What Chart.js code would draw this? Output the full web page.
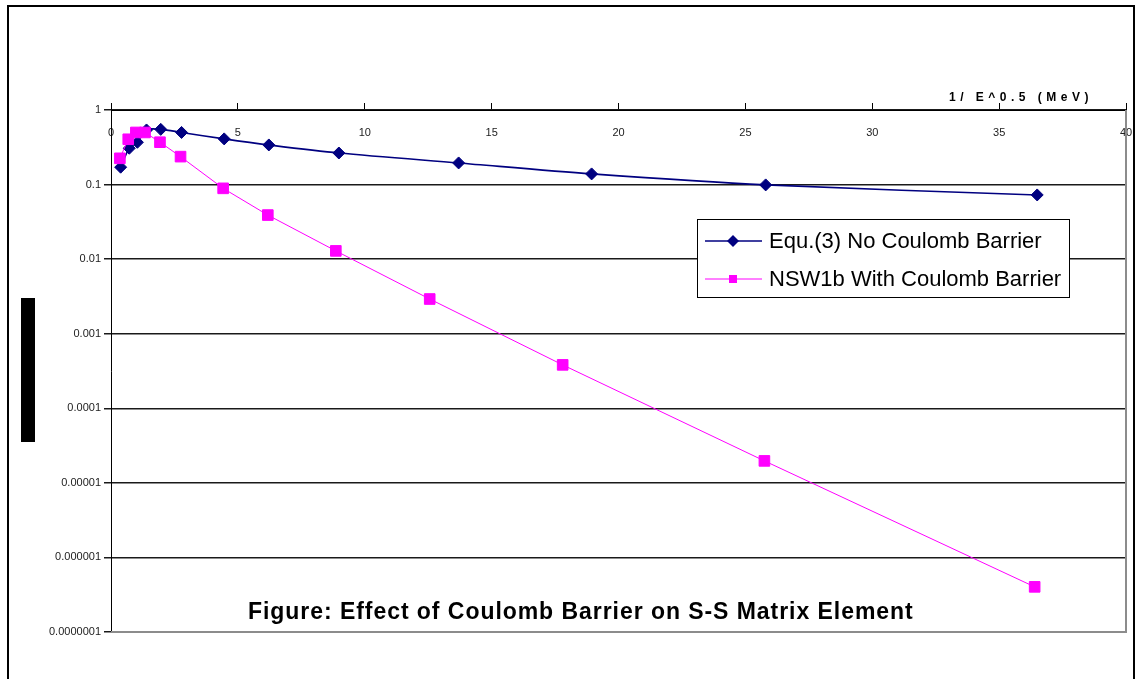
<!DOCTYPE html>
<html>
<head>
<meta charset="utf-8">
<script src="https://cdn.jsdelivr.net/npm/chart.js@4.4.1/dist/chart.umd.min.js"></script>
<style>
  html, body { margin: 0; padding: 0; background: #fff; }
  canvas { display: block; }
</style>
</head>
<body>
<canvas id="chart" width="1137" height="679"></canvas>
<script>
// 1/sqrt(E) positions and matrix element values for both calculations
const noBarrierX = [0.38, 0.72, 1.04, 1.40, 1.96, 2.78, 4.46, 6.22, 8.98, 13.7, 18.94, 25.8, 36.5];
const noBarrierY = [0.171, 0.307, 0.369, 0.54, 0.55, 0.50, 0.41, 0.34, 0.265, 0.195, 0.139, 0.099, 0.0726];

const barrierX = [0.35, 0.68, 0.98, 1.34, 1.93, 2.74, 4.42, 6.18, 8.86, 12.56, 17.8, 25.75, 36.4];
const barrierY = [0.225, 0.405, 0.50, 0.50, 0.37, 0.237, 0.089, 0.039, 0.0129, 0.00292, 0.000382, 0.0000197, 0.000000403];

const seriesNames = ["Equ.(3) No Coulomb Barrier", "NSW1b With Coulomb Barrier"];

const yTicks = [0.0000001, 0.000001, 0.00001, 0.0001, 0.001, 0.01, 0.1, 1];
const yTickLabels = ["0.0000001", "0.000001", "0.00001", "0.0001", "0.001", "0.01", "0.1", "1"];

const chartTitle = "Figure: Effect of Coulomb Barrier on S-S Matrix Element";
const xAxisTitle = "1/ E^0.5 (MeV)";

const FONT = "'Liberation Sans', Arial, sans-serif";

const toPoints = (xs, ys) => xs.map((x, i) => ({ x, y: ys[i] }));

const drawMarker = (ctx, style, x, y, r, color) => {
  ctx.fillStyle = color;
  ctx.beginPath();
  if (style === "rectRot") {
    ctx.moveTo(x - r, y);
    ctx.lineTo(x, y - r);
    ctx.lineTo(x + r, y);
    ctx.lineTo(x, y + r);
    ctx.closePath();
  } else {
    ctx.rect(x - r, y - r, 2 * r, 2 * r);
  }
  ctx.fill();
};

const decor = {
  id: "decor",
  beforeDraw(chart) {
    const { ctx } = chart;
    ctx.save();
    ctx.fillStyle = "#fff";
    ctx.fillRect(0, 0, chart.width, chart.height);

    // outer frame, open at the bottom
    ctx.strokeStyle = "#000";
    ctx.lineWidth = 2;
    ctx.beginPath();
    ctx.moveTo(8, chart.height + 2);
    ctx.lineTo(8, 6);
    ctx.lineTo(1134, 6);
    ctx.lineTo(1134, chart.height + 2);
    ctx.stroke();

    // solid bar left of the value axis
    ctx.fillStyle = "#000";
    ctx.fillRect(21, 298, 14, 144);
    ctx.restore();
  },
  beforeDatasetsDraw(chart) {
    const { ctx, chartArea: a } = chart;
    ctx.save();
    ctx.strokeStyle = "#8c8c8c";
    ctx.lineWidth = 2;
    ctx.beginPath();
    ctx.moveTo(a.right, a.top);
    ctx.lineTo(a.right, a.bottom);
    ctx.lineTo(a.left, a.bottom);
    ctx.stroke();
    ctx.restore();
  },
  afterDraw(chart) {
    const { ctx } = chart;
    ctx.save();

    // legend box
    ctx.fillStyle = "#fff";
    ctx.fillRect(697, 219, 373, 79);
    ctx.strokeStyle = "#000";
    ctx.lineWidth = 1;
    ctx.strokeRect(697.5, 219.5, 372, 78);

    chart.data.datasets.forEach((ds, i) => {
      const y = 241 + i * 38;
      ctx.strokeStyle = ds.borderColor;
      ctx.lineWidth = ds.borderWidth;
      ctx.beginPath();
      ctx.moveTo(705, y);
      ctx.lineTo(762, y);
      ctx.stroke();
      drawMarker(ctx, ds.pointStyle, 733, y, ds.pointStyle === "rectRot" ? 6 : 4, ds.pointBackgroundColor);
      ctx.fillStyle = "#000";
      ctx.font = `22px ${FONT}`;
      ctx.textBaseline = "middle";
      ctx.textAlign = "left";
      ctx.fillText(ds.label, 769, y + 1);
    });

    // axis caption above the top axis
    ctx.font = `bold 12px ${FONT}`;
    ctx.letterSpacing = "4.5px";
    ctx.fillStyle = "#000";
    ctx.textBaseline = "middle";
    ctx.fillText(xAxisTitle, 949, 98);

    // figure caption
    ctx.font = `bold 23px ${FONT}`;
    ctx.letterSpacing = "0.95px";
    ctx.fillText(chartTitle, 248, 613);
    ctx.restore();
  },
};

const chartData = {
  datasets: [
    {
      label: seriesNames[0],
      data: toPoints(noBarrierX, noBarrierY),
      borderColor: "#000080",
      backgroundColor: "#000080",
      pointBackgroundColor: "#000080",
      pointBorderColor: "#000080",
      borderWidth: 1.6,
      pointStyle: "rectRot",
      pointRadius: 6,
      pointBorderWidth: 1,
      tension: 0.3,
      order: 1,
    },
    {
      label: seriesNames[1],
      data: toPoints(barrierX, barrierY),
      borderColor: "#ff00ff",
      backgroundColor: "#ff00ff",
      pointBackgroundColor: "#ff00ff",
      pointBorderColor: "#ff00ff",
      borderWidth: 1,
      pointStyle: "rect",
      pointRadius: 7.5,
      pointBorderWidth: 1,
      tension: 0,
      order: 0,
    },
  ],
};

const chartConfig = {
  type: "scatter",
  data: chartData,
  options: {
    responsive: false,
    animation: false,
    showLine: true,
    layout: { padding: { left: 0, top: 0, right: 11, bottom: 47 } },
    plugins: {
      legend: { display: false },
      tooltip: { enabled: false },
    },
    scales: {
      x: {
        type: "linear",
        position: "top",
        min: 0,
        max: 40,
        ticks: {
          stepSize: 5,
          // mirrored: labels sit inside the plot, just under the axis line
          mirror: true,
          padding: 16,
          color: "#222",
          font: { family: FONT, size: 11 },
        },
        grid: { drawOnChartArea: false, tickLength: 7, color: "#000" },
        border: { color: "#000", width: 1 },
        afterFit(scale) {
          scale.height = 110;
          // end labels may overhang; keep the plot width fixed
          scale.paddingLeft = 0;
          scale.paddingRight = 0;
        },
      },
      y: {
        type: "logarithmic",
        min: 0.0000001,
        max: 1,
        afterBuildTicks(scale) {
          scale.ticks = yTicks.map((value) => ({ value }));
        },
        ticks: {
          padding: 3,
          color: "#222",
          font: { family: FONT, size: 11 },
          callback: (value, index) => yTickLabels[index],
        },
        grid: { color: "#1a1a1a", lineWidth: 1.5, tickLength: 7 },
        border: { color: "#000", width: 1 },
        afterFit(scale) {
          scale.width = 111;
        },
      },
    },
  },
  plugins: [decor],
};

window.addEventListener("DOMContentLoaded", () => {
  new Chart(document.getElementById("chart"), chartConfig);
});
</script>
</body>
</html>
